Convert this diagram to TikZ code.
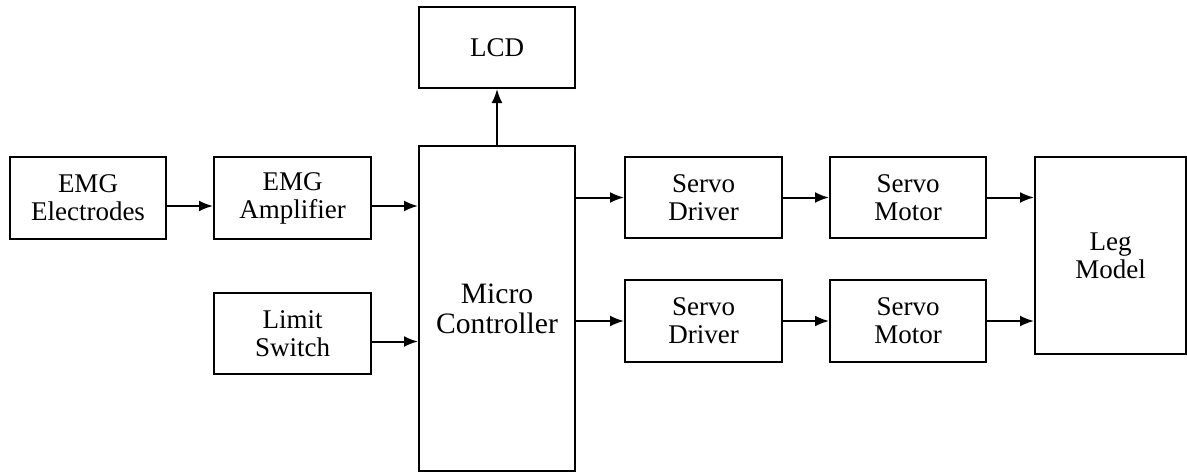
\documentclass[tikz,border=0pt]{standalone}
\usepackage{fontspec}
\setmainfont{Liberation Serif}
\usetikzlibrary{arrows.meta}

\tikzset{
  block/.style={draw, line width=1pt, align=center, inner sep=0pt,
    font=\fontsize{13.5pt}{14pt}\selectfont},
  sig/.style={line width=1pt, -{Latex[length=7pt,width=5.5pt]}}
}

\begin{document}
\begin{tikzpicture}[x=0.5pt,y=-0.5pt]
			\useasboundingbox (0,0) rectangle (1187,472);
			\node[block, minimum width=78pt, minimum height=41pt] (elec) at (88,198) {EMG\\Electrodes};
			\node[block, minimum width=78.5pt, minimum height=41pt] (amp) at (292.5,198) {EMG\\Amplifier};
			\node[block, minimum width=78.5pt, minimum height=40.5pt] (lim) at (292.5,333.5) {Limit\\Switch};
			\node[block, minimum width=78pt, minimum height=162.5pt,
			      font=\fontsize{14.8pt}{15pt}\selectfont] (mc) at (497,308.5) {Micro\\Controller};
			\node[block, minimum width=78pt, minimum height=40.5pt] (lcd) at (497,47.5) {LCD};
			\node[block, minimum width=78.5pt, minimum height=40.5pt] (drv1) at (703.5,197.5) {Servo\\Driver};
			\node[block, minimum width=78.5pt, minimum height=41pt] (drv2) at (703.5,321) {Servo\\Driver};
			\node[block, minimum width=78pt, minimum height=40.5pt] (mot1) at (908,197.5) {Servo\\Motor};
			\node[block, minimum width=78pt, minimum height=41pt] (mot2) at (908,321) {Servo\\Motor};
			\node[block, minimum width=75.5pt, minimum height=98.5pt] (leg) at (1110.5,255.5) {Leg\\Model};
			\draw[sig] ([yshift=-4pt]elec.east) -- ([yshift=-4pt]amp.west);
			\draw[sig] ([yshift=-4pt]amp.east) -- ([yshift=-4pt]amp.east -| mc.west);
			\draw[sig] ([yshift=-4pt]lim.east) -- ([yshift=-4pt]lim.east -| mc.west);
			\draw[sig] (mc.north) -- (lcd.south);
			\draw[sig] (drv1.west -| mc.east) -- (drv1.west); \draw[sig] (drv2.west -| mc.east) -- (drv2.west);
			\draw[sig] (drv1) -- (mot1); \draw[sig] (drv2) -- (mot2);
			\draw[sig] (mot1.east) -- (mot1.east -| leg.west); \draw[sig] (mot2.east) -- (mot2.east -| leg.west);
		\end{tikzpicture}
\end{document}
